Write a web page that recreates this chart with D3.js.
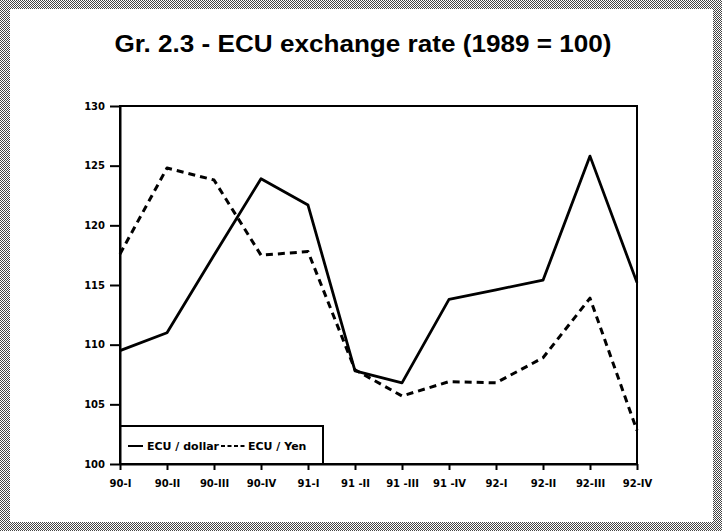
<!DOCTYPE html>
<html>
<head>
	<meta charset="UTF-8">
	<title>ECU exchange rate</title>
	<script src="https://cdn.jsdelivr.net/npm/d3@7"></script>
	<style>
		body { margin: 0; background: #fff; }
		svg { display: block; }
	</style>
</head>
<body>

	<script type="text/javascript">
		// data
		var quarters = ["90-I", "90-II", "90-III", "90-IV", "91-I", "91 -II", "91 -III", "91 -IV", "92-I", "92-II", "92-III", "92-IV"];
		var ecuDollar = [109.5, 111.0, 117.5, 123.9, 121.7, 107.8, 106.8, 113.8, 114.6, 115.4, 125.8, 115.2];
		var ecuYen = [117.6, 124.8, 123.8, 117.5, 117.8, 107.9, 105.7, 106.9, 106.8, 108.9, 113.9, 102.8];
		var yTicks = [100, 105, 110, 115, 120, 125, 130];

		var W = 722, H = 531;
		var plotL = 120, plotR = 637, plotT = 106, plotB = 464;

		//create the canvas
		var canvas = d3.select("body")
						.append("svg")
						.attr("width", W)
						.attr("height", H);

		// dotted grey frame round the page
		var pat = canvas.append("defs").append("pattern")
						.attr("id", "dots")
						.attr("width", 2)
						.attr("height", 2)
						.attr("patternUnits", "userSpaceOnUse");
		pat.append("rect").attr("width", 2).attr("height", 2).attr("fill", "#fff");
		pat.append("rect").attr("x", 0).attr("y", 0).attr("width", 1).attr("height", 1).attr("fill", "#444");
		pat.append("rect").attr("x", 1).attr("y", 1).attr("width", 1).attr("height", 1).attr("fill", "#444");

		canvas.append("rect")
			.attr("width", W)
			.attr("height", H)
			.attr("fill", "url(#dots)");
		canvas.append("rect")
			.attr("x", 10)
			.attr("y", 9)
			.attr("width", 703)
			.attr("height", 513)
			.attr("fill", "#fff");

		// title
		canvas.append("text")
			.attr("x", 363)
			.attr("y", 52)
			.attr("text-anchor", "middle")
			.attr("textLength", 497)
			.attr("lengthAdjust", "spacingAndGlyphs")
			.style("font-family", "'Liberation Sans', Arial, sans-serif")
			.style("font-weight", "bold")
			.style("font-size", "23px")
			.text("Gr. 2.3 - ECU exchange rate (1989 = 100)");

		var x = d3.scalePoint().domain(quarters).range([plotL, plotR]);
		var y = d3.scaleLinear().domain([100, 130]).range([plotB, plotT]);

		// plot frame (top and right sides)
		canvas.append("rect")
			.attr("x", plotL)
			.attr("y", plotT)
			.attr("width", plotR - plotL)
			.attr("height", plotB - plotT)
			.attr("fill", "none")
			.attr("stroke", "#000")
			.attr("stroke-width", 2);

		var line = d3.line()
					.x(function (d, i) { return x(quarters[i]); })
					.y(function (d) { return y(d); });

		canvas.append("path")
			.datum(ecuDollar)
			.attr("d", line)
			.attr("fill", "none")
			.attr("stroke", "#000")
			.attr("stroke-width", 2.8)
			.attr("stroke-linejoin", "round");

		canvas.append("path")
			.datum(ecuYen)
			.attr("d", line)
			.attr("fill", "none")
			.attr("stroke", "#000")
			.attr("stroke-width", 3)
			.attr("stroke-dasharray", "7,5")
			.attr("stroke-linejoin", "round");

		// legend box sits on the x axis
		var leg = canvas.append("g");
		leg.append("rect")
			.attr("x", plotL)
			.attr("y", 426)
			.attr("width", 203)
			.attr("height", plotB - 426)
			.attr("fill", "#fff")
			.attr("stroke", "#000")
			.attr("stroke-width", 2);
		leg.append("line")
			.attr("x1", 128).attr("y1", 446)
			.attr("x2", 143).attr("y2", 446)
			.attr("stroke", "#000").attr("stroke-width", 2);
		leg.append("line")
			.attr("x1", 221).attr("y1", 446)
			.attr("x2", 245).attr("y2", 446)
			.attr("stroke", "#000").attr("stroke-width", 2)
			.attr("stroke-dasharray", "4,2.5");
		leg.selectAll("text")
			.data([["ECU / dollar", 147], ["ECU / Yen", 248]])
			.enter().append("text")
			.attr("x", function (d) { return d[1]; })
			.attr("y", 450)
			.style("font-family", "'DejaVu Sans', sans-serif")
			.style("font-weight", "bold")
			.style("font-size", "11px")
			.text(function (d) { return d[0]; });

		// axes
		var xAxis = canvas.append("g")
						.attr("transform", "translate(0," + plotB + ")")
						.call(d3.axisBottom(x).tickSize(6).tickSizeOuter(0).tickPadding(10));
		var yAxis = canvas.append("g")
						.attr("transform", "translate(" + plotL + ",0)")
						.call(d3.axisLeft(y).tickValues(yTicks).tickSize(10).tickSizeOuter(0).tickPadding(5));

		canvas.selectAll(".domain").attr("stroke-width", 2);
		canvas.selectAll(".tick line").attr("stroke-width", 2);
		canvas.selectAll(".tick text")
			.style("font-family", "'DejaVu Sans', sans-serif")
			.style("font-weight", "bold")
			.style("font-size", "10px")
			.attr("fill", "#000");
	</script>
</body>
</html>
